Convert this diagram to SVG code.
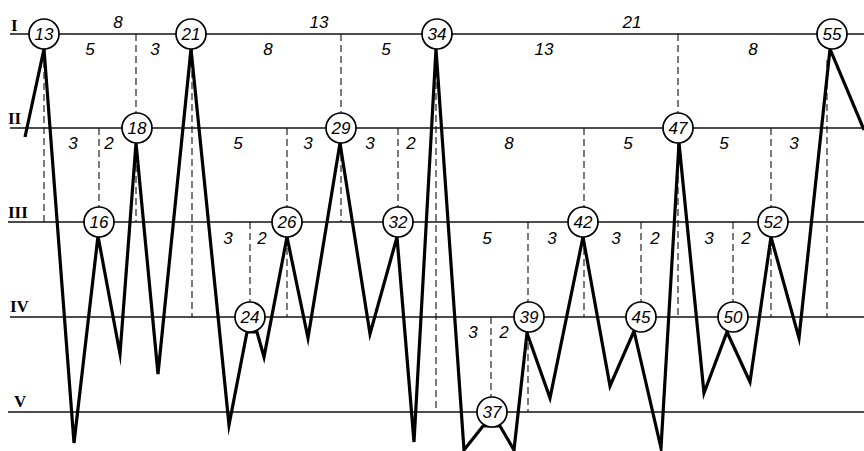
<svg xmlns="http://www.w3.org/2000/svg" width="864" height="451" viewBox="0 0 864 451">
<style>
.lvl{stroke:#111;stroke-width:1.6;fill:none}
.dash{stroke:#111;stroke-width:1.1;stroke-dasharray:7,4;fill:none}
.zig{stroke:#000;stroke-width:3.2;fill:none;stroke-linejoin:miter;stroke-miterlimit:8;stroke-linecap:butt}
.nc{fill:#fff;stroke:#000;stroke-width:1.7}
.nt{font-family:"Liberation Sans",Arial,sans-serif;font-style:italic;font-size:17px;text-anchor:middle;fill:#000}
.lb{font-family:"Liberation Sans",Arial,sans-serif;font-style:italic;font-size:17px;text-anchor:middle;fill:#000}
.rn{font-family:"Liberation Serif","Times New Roman",serif;font-weight:bold;font-size:17px;fill:#000}
</style>
<rect width="864" height="451" fill="#fff"/>
<g id="levels">
<line class="lvl" x1="10" y1="34" x2="864" y2="34"/>
<line class="lvl" x1="10" y1="128" x2="864" y2="128"/>
<line class="lvl" x1="8" y1="222" x2="864" y2="222"/>
<line class="lvl" x1="10" y1="317" x2="864" y2="317"/>
<line class="lvl" x1="8" y1="412" x2="864" y2="412"/>
<text class="rn" x="11" y="31">I</text>
<text class="rn" x="8" y="124">II</text>
<text class="rn" x="8" y="218">III</text>
<text class="rn" x="10" y="312">IV</text>
<text class="rn" x="14" y="407">V</text>
</g>
<g id="guides">
<line class="dash" x1="44" y1="50" x2="44" y2="222"/>
<line class="dash" x1="136" y1="34" x2="136" y2="113"/>
<line class="dash" x1="136" y1="143" x2="136" y2="222"/>
<line class="dash" x1="99" y1="128" x2="99" y2="207"/>
<line class="dash" x1="192" y1="49" x2="192" y2="317"/>
<line class="dash" x1="287" y1="128" x2="287" y2="207"/>
<line class="dash" x1="287" y1="237" x2="287" y2="317"/>
<line class="dash" x1="250" y1="222" x2="250" y2="302"/>
<line class="dash" x1="341" y1="34" x2="341" y2="113"/>
<line class="dash" x1="341" y1="143" x2="341" y2="222"/>
<line class="dash" x1="398" y1="128" x2="398" y2="207"/>
<line class="dash" x1="436" y1="49" x2="436" y2="412"/>
<line class="dash" x1="491" y1="317" x2="491" y2="397"/>
<line class="dash" x1="528" y1="222" x2="528" y2="302"/>
<line class="dash" x1="528" y1="332" x2="528" y2="412"/>
<line class="dash" x1="584" y1="128" x2="584" y2="207"/>
<line class="dash" x1="584" y1="237" x2="584" y2="317"/>
<line class="dash" x1="641" y1="222" x2="641" y2="302"/>
<line class="dash" x1="678" y1="34" x2="678" y2="113"/>
<line class="dash" x1="678" y1="143" x2="678" y2="317"/>
<line class="dash" x1="733" y1="222" x2="733" y2="302"/>
<line class="dash" x1="771" y1="128" x2="771" y2="207"/>
<line class="dash" x1="771" y1="237" x2="771" y2="317"/>
<line class="dash" x1="827" y1="60" x2="827" y2="317"/>
</g>
<g id="labels">
<text class="lb" x="118" y="28">8</text>
<text class="lb" x="319" y="28">13</text>
<text class="lb" x="632" y="28">21</text>
<text class="lb" x="90" y="55">5</text>
<text class="lb" x="155" y="55">3</text>
<text class="lb" x="268" y="55">8</text>
<text class="lb" x="386" y="55">5</text>
<text class="lb" x="544" y="55">13</text>
<text class="lb" x="753" y="55">8</text>
<text class="lb" x="73" y="149">3</text>
<text class="lb" x="109" y="149">2</text>
<text class="lb" x="238" y="149">5</text>
<text class="lb" x="308" y="149">3</text>
<text class="lb" x="370" y="149">3</text>
<text class="lb" x="411" y="149">2</text>
<text class="lb" x="509" y="149">8</text>
<text class="lb" x="628" y="149">5</text>
<text class="lb" x="724" y="149">5</text>
<text class="lb" x="794" y="149">3</text>
<text class="lb" x="228" y="244">3</text>
<text class="lb" x="262" y="244">2</text>
<text class="lb" x="487" y="244">5</text>
<text class="lb" x="552" y="244">3</text>
<text class="lb" x="616" y="244">3</text>
<text class="lb" x="655" y="244">2</text>
<text class="lb" x="709" y="244">3</text>
<text class="lb" x="746" y="244">2</text>
<text class="lb" x="473" y="338">3</text>
<text class="lb" x="504" y="338">2</text>
</g>
<g id="connectors">
<path class="zig" d="M25,137 L44,49 L74,443 L98,236 L120,354 L136,143 L158,374 L191,49 L229,425 L247,332 L257,332 L264,357 L287,237 L308,338 L340,143 L370,334 L397,237 L414,442 L436,49 L464,450 L483,426 L500,426 L514,450 L527,333 L550,398 L583,237 L610,386 L634,331 L661,448 L679,143 L704,393 L727,332 L750,382 L771,237 L799,338 L830,49 L864,130"/>
</g>
<g id="n13"><circle class="nc" cx="44" cy="34" r="15"/><text class="nt" x="44" y="40">13</text></g>
<g id="n21"><circle class="nc" cx="191" cy="34" r="15"/><text class="nt" x="191" y="40">21</text></g>
<g id="n34"><circle class="nc" cx="437" cy="34" r="15"/><text class="nt" x="437" y="40">34</text></g>
<g id="n55"><circle class="nc" cx="832" cy="34" r="15"/><text class="nt" x="832" y="40">55</text></g>
<g id="n18"><circle class="nc" cx="137" cy="128" r="15"/><text class="nt" x="137" y="134">18</text></g>
<g id="n29"><circle class="nc" cx="341" cy="128" r="15"/><text class="nt" x="341" y="134">29</text></g>
<g id="n47"><circle class="nc" cx="678" cy="128" r="15"/><text class="nt" x="678" y="134">47</text></g>
<g id="n16"><circle class="nc" cx="99" cy="222" r="15"/><text class="nt" x="99" y="228">16</text></g>
<g id="n26"><circle class="nc" cx="287" cy="222" r="15"/><text class="nt" x="287" y="228">26</text></g>
<g id="n32"><circle class="nc" cx="398" cy="222" r="15"/><text class="nt" x="398" y="228">32</text></g>
<g id="n42"><circle class="nc" cx="583" cy="222" r="15"/><text class="nt" x="583" y="228">42</text></g>
<g id="n52"><circle class="nc" cx="773" cy="222" r="15"/><text class="nt" x="773" y="228">52</text></g>
<g id="n24"><circle class="nc" cx="250" cy="317" r="15"/><text class="nt" x="250" y="323">24</text></g>
<g id="n39"><circle class="nc" cx="529" cy="317" r="15"/><text class="nt" x="529" y="323">39</text></g>
<g id="n45"><circle class="nc" cx="641" cy="317" r="15"/><text class="nt" x="641" y="323">45</text></g>
<g id="n50"><circle class="nc" cx="733" cy="317" r="15"/><text class="nt" x="733" y="323">50</text></g>
<g id="n37"><circle class="nc" cx="492" cy="412" r="15"/><text class="nt" x="492" y="418">37</text></g>
</svg>
